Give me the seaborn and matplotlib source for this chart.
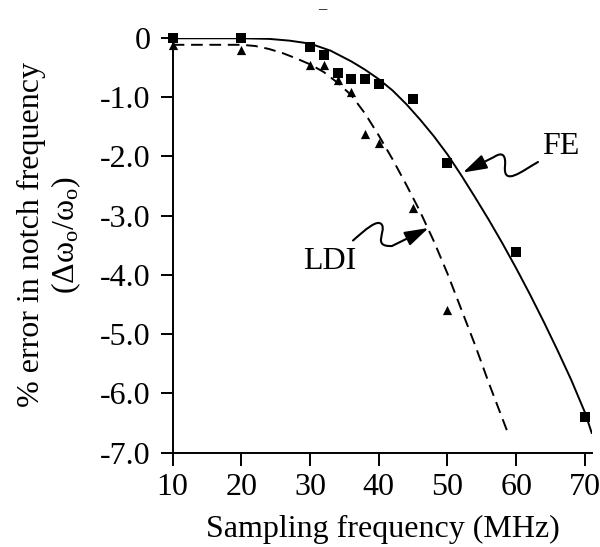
import matplotlib
matplotlib.use("Agg")
import matplotlib.pyplot as plt
import matplotlib.transforms as mtransforms
from matplotlib.path import Path
from matplotlib.patches import FancyArrowPatch
import seaborn as sns
import pandas as pd

# ---- data ----
fe_x = [10, 20, 30, 32, 34, 36, 38, 40, 45, 50, 60, 70]
fe_y = [0.0, 0.0, -0.15, -0.29, -0.60, -0.69, -0.69, -0.78, -1.04, -2.11, -3.61, -6.40]

ldi_x = [10, 20, 30, 32, 34, 36, 38, 40, 45, 50]
ldi_y = [-0.13, -0.21, -0.46, -0.46, -0.71, -0.91, -1.62, -1.77, -2.87, -4.60]

fe_curve_x = [10, 20, 24, 27, 30, 33, 36, 38, 40, 42, 44, 46, 48, 50, 52, 54, 56, 58, 60, 62, 64, 66, 68, 70, 71]
fe_curve_y = [-0.01, -0.01, -0.02, -0.05, -0.10, -0.22, -0.40, -0.54, -0.70, -0.89, -1.12, -1.38, -1.66,
              -1.97, -2.32, -2.69, -3.07, -3.47, -3.89, -4.33, -4.79, -5.27, -5.77, -6.32, -6.67]

ldi_curve_x = [10, 20, 22, 24, 26, 28, 30, 32, 34, 36, 38, 40, 42, 44, 46, 48, 50, 52, 54, 56, 58.8]
ldi_curve_y = [-0.12, -0.12, -0.14, -0.19, -0.26, -0.35, -0.45, -0.58, -0.76, -0.97, -1.28, -1.65,
               -2.05, -2.48, -2.93, -3.43, -3.98, -4.58, -5.18, -5.82, -6.67]

x_ticks = [10, 20, 30, 40, 50, 60, 70]
x_tick_labels = ["10", "20", "30", "40", "50", "60", "70"]
y_ticks = [0, -1, -2, -3, -4, -5, -6, -7]
y_tick_labels = ["0", "-1.0", "-2.0", "-3.0", "-4.0", "-5.0", "-6.0", "-7.0"]

x_label = "Sampling frequency (MHz)"
y_label = "% error in notch frequency\n(Δω$_{\\rm o}$/ω$_{\\rm o}$)"

# ---- style ----
sns.set_theme(style="ticks")
plt.rcParams["font.family"] = ["Liberation Serif", "DejaVu Serif"]
plt.rcParams["mathtext.fontset"] = "custom"
plt.rcParams["mathtext.rm"] = "Liberation Serif"
plt.rcParams["mathtext.it"] = "Liberation Serif:italic"
plt.rcParams["mathtext.bf"] = "Liberation Serif:bold"

FS = 23
W, H = 600, 547
fig = plt.figure(figsize=(W / 100, H / 100), dpi=100)
ax = fig.add_axes([0.2878, 0.1724, 0.6985, 0.7587])

fe_curve = pd.DataFrame({"x": fe_curve_x, "y": fe_curve_y})
ldi_curve = pd.DataFrame({"x": ldi_curve_x, "y": ldi_curve_y})
fe_pts = pd.DataFrame({"x": fe_x, "y": fe_y})
ldi_pts = pd.DataFrame({"x": ldi_x, "y": ldi_y})

sns.lineplot(data=fe_curve, x="x", y="y", ax=ax, color="black", lw=1.4, sort=False)
sns.lineplot(data=ldi_curve, x="x", y="y", ax=ax, color="black", lw=1.4, sort=False,
             linestyle=(0, (6.0, 3.45)))
sns.scatterplot(data=fe_pts, x="x", y="y", ax=ax, marker="s", s=52, color="black",
                linewidth=0, zorder=4, clip_on=False)
sns.scatterplot(data=ldi_pts, x="x", y="y", ax=ax, marker="^", s=44, color="black",
                linewidth=0, zorder=4, clip_on=False)

ax.set_xlim(10, 71)
ax.set_ylim(-7, 0)
ax.set_xticks(x_ticks)
ax.set_xticklabels(x_tick_labels)
ax.set_yticks(y_ticks)
ax.set_yticklabels(y_tick_labels)
ax.tick_params(axis="both", direction="out", length=9, width=1.4, color="black",
               labelsize=FS, labelcolor="black")
ax.tick_params(axis="x", pad=5.5)
ax.tick_params(axis="y", pad=7)
for side in ["top", "right"]:
    ax.spines[side].set_visible(False)
for side in ["left", "bottom"]:
    ax.spines[side].set_linewidth(1.4)
    ax.spines[side].set_color("black")

ax.set_xlabel(x_label, fontsize=FS, color="black")
ax.xaxis.label.set_va("center")
ax.xaxis.set_label_coords(0.5007, -0.186)
ax.set_ylabel(y_label, fontsize=FS, color="black", linespacing=1.15)
ax.yaxis.label.set_va("center")
ax.yaxis.label.set_ha("center")
ax.yaxis.label.set_multialignment("center")
ax.yaxis.set_label_coords(-0.293, 0.5246)

ax.text(66.5, -1.84, "FE", fontsize=FS, ha="center", va="center", color="black")
ax.text(32.9, -3.77, "LDI", fontsize=FS, ha="center", va="center", color="black")

# squiggly annotation arrows (image pixel coordinates, y downward)
pix = mtransforms.Affine2D().scale(1, -1).translate(0, H)
codes = [Path.MOVETO, Path.CURVE4, Path.CURVE4, Path.CURVE4,
         Path.CURVE4, Path.CURVE4, Path.CURVE4, Path.LINETO]
fe_path = Path([(538, 162), (522, 171), (503, 187), (505, 166),
                (506, 156), (503, 151), (494, 157), (463, 172.5)], codes)
ldi_path = Path([(353, 240.5), (365, 230), (378, 218), (382, 225),
                 (386, 232), (372, 247), (392, 246), (428.5, 228)], codes)
for p in (fe_path, ldi_path):
    arr = FancyArrowPatch(path=p, arrowstyle="-|>,head_length=1.45,head_width=0.45",
                          mutation_scale=10, transform=pix, color="black", lw=1.5)
    fig.add_artist(arr)

fig.text(322 / W, 1 - 9 / H, "–", fontsize=12, ha="center", va="center", color="black")

fig.savefig("out.png", dpi=100)
